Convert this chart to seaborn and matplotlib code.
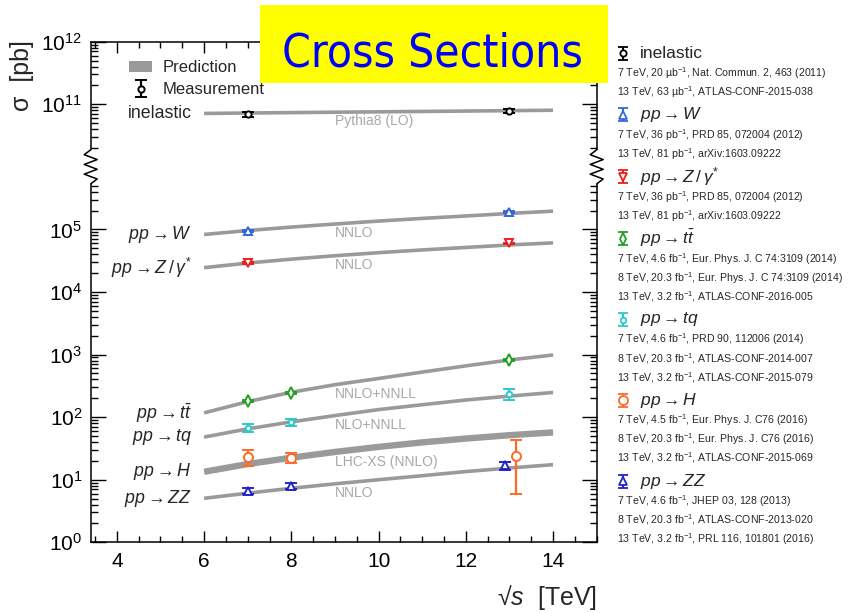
import numpy as np
import matplotlib
matplotlib.use("Agg")
import matplotlib.pyplot as plt
import seaborn as sns
from matplotlib import font_manager
from matplotlib.ticker import FixedLocator, FuncFormatter, MultipleLocator, NullFormatter
from matplotlib.patches import Rectangle, Patch
from matplotlib.lines import Line2D

# ---------------------------------------------------------------------------
# Theory predictions [pb] versus centre-of-mass energy [TeV]
energies = [6, 7, 8, 9, 10, 11, 12, 13, 14]
inelastic_pred = [7.13e10, 7.25e10, 7.36e10, 7.47e10, 7.57e10, 7.68e10, 7.79e10, 7.91e10, 8.03e10]
w_pred = [8.3e4, 9.6e4, 1.09e5, 1.22e5, 1.36e5, 1.50e5, 1.64e5, 1.80e5, 1.96e5]
z_pred = [2.45e4, 2.9e4, 3.35e4, 3.8e4, 4.25e4, 4.7e4, 5.15e4, 5.65e4, 6.1e4]
ttbar_pred = [117, 177, 250, 330, 415, 525, 660, 820, 985]
tq_pred = [48, 65, 84, 106, 132, 158, 188, 217, 248]
h_pred = [13.4, 17.8, 22.5, 27.8, 33.5, 39.5, 45.5, 51.5, 57.0]
zz_pred = [5.05, 6.1, 7.3, 8.6, 10.0, 11.6, 13.5, 15.4, 17.4]

# Measurements [pb] with lower / upper uncertainties
inelastic_x = [7, 13]
inelastic_y = [6.94e10, 7.81e10]
inelastic_lo = [0.69e10, 0.6e10]
inelastic_hi = [0.69e10, 0.6e10]

w_x = [7, 13]
w_y = [9.5e4, 1.9e5]
w_lo = [0.35e4, 0.07e5]
w_hi = [0.35e4, 0.07e5]

z_x = [7, 13]
z_y = [2.93e4, 5.97e4]
z_lo = [0.1e4, 0.2e4]
z_hi = [0.1e4, 0.2e4]

ttbar_x = [7, 8, 13]
ttbar_y = [183, 242, 818]
ttbar_lo = [7, 10, 36]
ttbar_hi = [7, 10, 36]

tq_x = [7, 8, 13]
tq_y = [68, 83, 235]
tq_lo = [10, 12, 50]
tq_hi = [10, 12, 50]

h_x = [7, 8, 13.15]
h_y = [22.8, 22.5, 24.3]
h_lo = [6.3, 3.7, 18.4]
h_hi = [6.7, 4.3, 19.6]

zz_x = [7, 8, 12.9]
zz_y = [6.7, 7.9, 16.9]
zz_lo = [0.8, 0.9, 2.6]
zz_hi = [0.8, 0.9, 2.6]

# Labels
process_labels = ["inelastic", r"$pp\rightarrow W$", r"$pp\rightarrow Z\,/\,\gamma^{*}$",
                  r"$pp\rightarrow t\bar{t}$", r"$pp\rightarrow tq$", r"$pp\rightarrow H$",
                  r"$pp\rightarrow ZZ$"]
theory_labels = ["Pythia8 (LO)", "NNLO", "NNLO", "NNLO+NNLL", "NLO+NNLL", "LHC-XS (NNLO)", "NNLO"]
references = [
    ["7 TeV, 20 µb$^{-1}$, Nat. Commun. 2, 463 (2011)",
     "13 TeV, 63 µb$^{-1}$, ATLAS-CONF-2015-038"],
    ["7 TeV, 36 pb$^{-1}$, PRD 85, 072004 (2012)",
     "13 TeV, 81 pb$^{-1}$, arXiv:1603.09222"],
    ["7 TeV, 36 pb$^{-1}$, PRD 85, 072004 (2012)",
     "13 TeV, 81 pb$^{-1}$, arXiv:1603.09222"],
    ["7 TeV, 4.6 fb$^{-1}$, Eur. Phys. J. C 74:3109 (2014)",
     "8 TeV, 20.3 fb$^{-1}$, Eur. Phys. J. C 74:3109 (2014)",
     "13 TeV, 3.2 fb$^{-1}$, ATLAS-CONF-2016-005"],
    ["7 TeV, 4.6 fb$^{-1}$, PRD 90, 112006 (2014)",
     "8 TeV, 20.3 fb$^{-1}$, ATLAS-CONF-2014-007",
     "13 TeV, 3.2 fb$^{-1}$, ATLAS-CONF-2015-079"],
    ["7 TeV, 4.5 fb$^{-1}$, Eur. Phys. J. C76 (2016)",
     "8 TeV, 20.3 fb$^{-1}$, Eur. Phys. J. C76 (2016)",
     "13 TeV, 3.2 fb$^{-1}$, ATLAS-CONF-2015-069"],
    ["7 TeV, 4.6 fb$^{-1}$, JHEP 03, 128 (2013)",
     "8 TeV, 20.3 fb$^{-1}$, ATLAS-CONF-2013-020",
     "13 TeV, 3.2 fb$^{-1}$, PRL 116, 101801 (2016)"],
]
x_ticks_major = [4, 6, 8, 10, 12, 14]

# Styles per process
colors = ["black", "#3567d8", "#ee1c1c", "#23a023", "#2ec8c8", "#ff6a2a", "#2222cc"]
markers = ["o", "^", "v", "d", "o", "o", "^"]
marker_sizes = [4.5, 5.5, 5.5, 5.8, 4.0, 6.5, 5.5]
band_widths = [2.6, 2.6, 2.6, 2.6, 2.6, 4.6, 2.6]

predictions = [inelastic_pred, w_pred, z_pred, ttbar_pred, tq_pred, h_pred, zz_pred]
meas_x = [inelastic_x, w_x, z_x, ttbar_x, tq_x, h_x, zz_x]
meas_y = [inelastic_y, w_y, z_y, ttbar_y, tq_y, h_y, zz_y]
meas_lo = [inelastic_lo, w_lo, z_lo, ttbar_lo, tq_lo, h_lo, zz_lo]
meas_hi = [inelastic_hi, w_hi, z_hi, ttbar_hi, tq_hi, h_hi, zz_hi]

GRAY = "#9a9a9a"

# ---------------------------------------------------------------------------
sns.set_theme(style="ticks")
plt.rcParams.update({
    "font.family": ["Liberation Sans", "DejaVu Sans"],
    "mathtext.fontset": "custom",
    "mathtext.rm": "Liberation Sans",
    "mathtext.it": "Liberation Sans:italic",
    "mathtext.bf": "Liberation Sans:bold",
    "mathtext.sf": "Liberation Sans",
    "axes.linewidth": 1.1,
    "axes.edgecolor": "black",
    "xtick.direction": "in",
    "ytick.direction": "in",
    "xtick.top": True,
    "ytick.right": True,
    "xtick.color": "black",
    "ytick.color": "black",
})


# Broken log axis: the decades between 1e6 and 1e10 are collapsed
def _fwd(v):
    lv = np.log10(np.clip(np.asarray(v, dtype=float), 1e-300, None))
    return np.where(lv <= 6, lv, np.where(lv >= 10, lv - 4.0, 6.0))


def _inv(t):
    t = np.asarray(t, dtype=float)
    return np.where(t <= 6, 10.0 ** t, 10.0 ** (t + 4.0))


fig = plt.figure(figsize=(8.48, 6.13), dpi=100)
ax = fig.add_axes([0.10696, 0.11533, 0.59670, 0.81664])
ax.set_yscale("function", functions=(_fwd, _inv))

# Theory bands
for pred, lw in zip(predictions, band_widths):
    sns.lineplot(x=energies, y=pred, ax=ax, color=GRAY, linewidth=lw,
                 estimator=None, sort=False, legend=False, zorder=2,
                 solid_capstyle="butt")

# Measurements
containers = []
for xs, ys, lo, hi, c, m, ms in zip(meas_x, meas_y, meas_lo, meas_hi, colors, markers, marker_sizes):
    eb = ax.errorbar(xs, ys, yerr=[lo, hi], fmt=m, color=c, ms=ms, mfc="white",
                     mec=c, mew=1.4, elinewidth=1.6, capsize=4, capthick=2.2, zorder=5)
    containers.append(eb)

# Process names on the left of the curves, theory names under them
for lab, pred in zip(process_labels, predictions):
    ax.annotate(lab, xy=(energies[0], pred[0]), xytext=(-12, 0),
                textcoords="offset pixels", ha="right", va="center", fontsize=12.8)
for i, (lab, pred) in enumerate(zip(theory_labels, predictions)):
    off = 10 if band_widths[i] > 3 else 9
    ax.annotate(lab, xy=(energies[3], pred[3]), xytext=(0, -off),
                textcoords="offset pixels", ha="left", va="center",
                fontsize=10, color="#a8a8a8")

# Axes ranges and ticks
ax.set_xlim(3.4, 15.0)
ax.set_ylim(1, 1e12)
ax.xaxis.set_major_locator(FixedLocator(x_ticks_major))
ax.xaxis.set_minor_locator(MultipleLocator(0.5))
major_y = [10.0 ** d for d in (0, 1, 2, 3, 4, 5, 11, 12)]
minor_y = [k * 10.0 ** d for d in (0, 1, 2, 3, 4, 5, 10, 11) for k in range(2, 10)]
ax.yaxis.set_major_locator(FixedLocator(major_y))
ax.yaxis.set_minor_locator(FixedLocator(minor_y))
ax.yaxis.set_major_formatter(FuncFormatter(
    lambda v, p: r"$\mathregular{10^{%d}}$" % int(round(np.log10(v)))))
ax.yaxis.set_minor_formatter(NullFormatter())
ax.tick_params(axis="x", which="major", length=8, width=1.0, labelsize=15, pad=7)
ax.tick_params(axis="x", which="minor", length=4, width=1.0)
ax.tick_params(axis="y", which="major", length=11, width=1.0, labelsize=15, pad=6)
ax.tick_params(axis="y", which="minor", length=5, width=1.0)
ax.set_xlabel("")
ax.set_ylabel("")

# Axis-break marks on both vertical spines
b0, b1 = 0.716, 0.784
dx = 6.5 / (0.59670 * 848)
for xc in (0.0, 1.0):
    ax.add_patch(Rectangle((xc - 0.035, b0), 0.07, b1 - b0, transform=ax.transAxes,
                           facecolor="white", edgecolor="none", clip_on=False, zorder=6))
    n = 7
    ys = np.linspace(b0, b1, n + 1)
    xs = [xc] + [xc + (dx if k % 2 == 0 else -dx) for k in range(n - 1)] + [xc]
    ax.add_line(Line2D(xs, ys, transform=ax.transAxes, color="black", lw=1.1,
                       clip_on=False, zorder=7))

# Legend for prediction / measurement
leg = ax.legend(handles=[Patch(facecolor=GRAY, edgecolor="none"), containers[0]],
                labels=["Prediction", "Measurement"], loc="upper left",
                bbox_to_anchor=(0.076, 0.963), frameon=False, fontsize=12,
                handlelength=1.4, handletextpad=0.6, labelspacing=0.43,
                borderpad=0.0, borderaxespad=0.0)

# Overlay in pixel coordinates for the side legend, titles and banner
lax = fig.add_axes([0, 0, 1, 1], zorder=10)
lax.set_xlim(0, 848)
lax.set_ylim(613, 0)
lax.axis("off")
lax.patch.set_visible(False)

ypos = 53.0
for i, (lab, refs, c, m, ms) in enumerate(zip(process_labels, references, colors, markers, marker_sizes)):
    if i > 0:
        ypos += 23.0
    lax.errorbar([623], [ypos], yerr=[[6.5], [6.5]], fmt=m, color=c, ms=ms, mfc="white",
                 mec=c, mew=1.3, elinewidth=1.5, capsize=3.5, capthick=2.0)
    lax.text(640, ypos, lab, ha="left", va="center", fontsize=12.5)
    for j, r in enumerate(refs):
        ypos += 20.0 if j == 0 else 18.9
        lax.text(617, ypos, r, ha="left", va="center", fontsize=7.6)

# Axis titles
lax.text(22, 40, "σ  [pb]", rotation=90, ha="center", va="top", fontsize=18)
lax.text(597, 598, "√$s$  [TeV]", ha="right", va="center", fontsize=18)

# Banner
_fonts = font_manager.fontManager.ttflist
if any(f.name == "Liberation Sans Narrow" for f in _fonts):
    banner_font = font_manager.FontProperties(family="Liberation Sans Narrow", size=40)
elif any(f.name == "DejaVu Sans" and str(f.stretch) == "condensed" for f in _fonts):
    banner_font = font_manager.FontProperties(family="DejaVu Sans", stretch="condensed", size=33)
else:
    banner_font = font_manager.FontProperties(family="DejaVu Sans", size=30)
lax.add_patch(Rectangle((260, 5), 348, 77.5, facecolor="#ffff00", edgecolor="none"))
lax.text(432, 66.5, "Cross Sections", ha="center", va="baseline", color="#0000ff",
         fontproperties=banner_font)

fig.savefig("out.png", dpi=100)
